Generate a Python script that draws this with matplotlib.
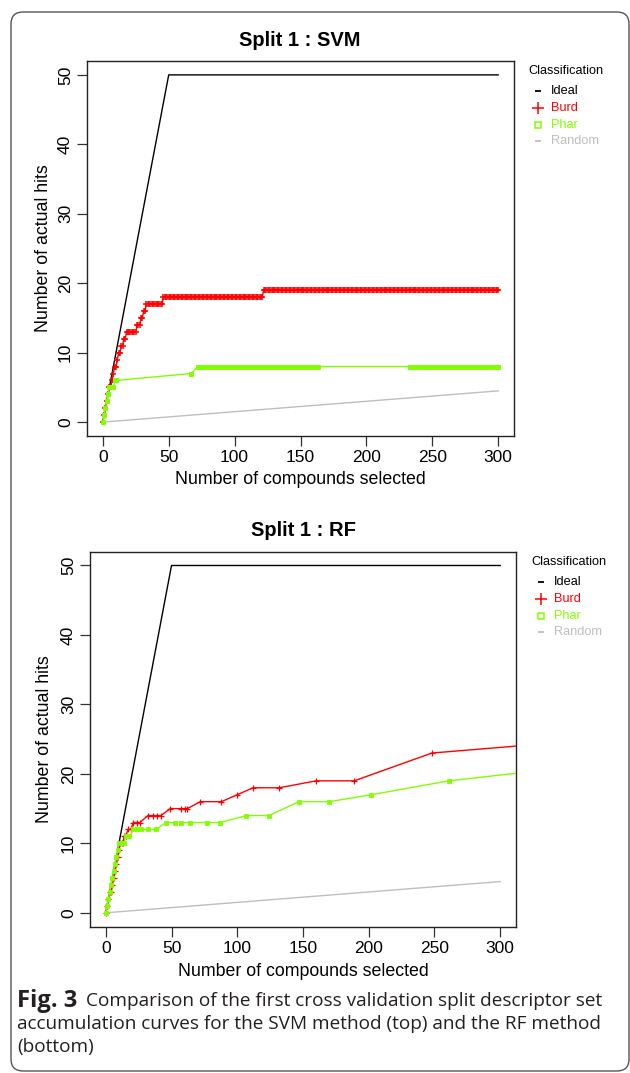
import numpy as np
import matplotlib
matplotlib.use("Agg")
import matplotlib.pyplot as plt
from matplotlib.patches import FancyBboxPatch
from matplotlib.lines import Line2D

# ---------------- data ----------------
x_ticks = [0, 50, 100, 150, 200, 250, 300]
y_ticks = [0, 10, 20, 30, 40, 50]

ideal_x = [0, 50, 300]
ideal_y = [0, 50, 50]
random_x = [0, 300]
random_y = [0, 4.5]

# SVM split: ranks at which actual hits were found
burd_svm_hits = [1, 2, 3, 4, 5, 7, 8, 9, 11, 12, 14, 16, 18, 26, 29, 31, 33, 46, 122]
burd_svm_ranks = list(range(0, 301))
phar_svm_hits = [1, 2, 3, 4, 5, 9, 67, 72]
phar_svm_ranks = list(range(0, 11)) + [67] + list(range(72, 164)) + list(range(233, 301))

# RF split: accumulation curve points
burd_rf_x = [0, 1, 2, 3, 4, 5, 6, 7, 8, 9, 10, 11, 12, 13, 14, 15, 17, 19, 21, 24, 26,
             32, 36, 39, 42, 49, 57, 60, 62, 72, 88, 100, 112, 132, 160, 189, 248, 376]
burd_rf_y = [0, 1, 2, 3, 3, 4, 5, 6, 7, 8, 9, 10, 10, 10, 11, 11, 12, 12, 13, 13, 13,
             14, 14, 14, 14, 15, 15, 15, 15, 16, 16, 17, 18, 18, 19, 19, 23, 25]
phar_rf_x = [0, 1, 2, 3, 4, 5, 6, 7, 8, 9, 10, 12, 14, 15, 18, 21, 24, 27, 32, 38,
             46, 53, 57, 64, 77, 87, 107, 124, 147, 170, 202, 261, 355]
phar_rf_y = [0, 1, 2, 3, 4, 5, 6, 7, 8, 9, 10, 10, 10, 11, 11, 12, 12, 12, 12, 12,
             13, 13, 13, 13, 13, 13, 14, 14, 16, 16, 17, 19, 21]

legend_labels = ["Ideal", "Burd", "Phar", "Random"]
caption_bold = "Fig. 3"
caption_lines = ["Comparison of the first cross validation split descriptor set",
                 "accumulation curves for the SVM method (top) and the RF method",
                 "(bottom)"]


def cumulative(hits, ranks):
    return np.searchsorted(np.array(hits), np.array(ranks), side="right")


# ---------------- style ----------------
W, H = 630, 1073
RED = "#FF0000"
GREEN = "#7FFF00"
GREY = "#BEBEBE"
plt.rcParams["font.family"] = ["Liberation Sans", "DejaVu Sans"]

fig = plt.figure(figsize=(W / 100, H / 100), dpi=100)

# background border (pixel coordinates)
bg = fig.add_axes([0, 0, 1, 1], zorder=-5)
bg.set_xlim(0, W)
bg.set_ylim(H, 0)
bg.axis("off")
bg.add_patch(FancyBboxPatch((11, 12), 618, 1059,
                            boxstyle="round,pad=0,rounding_size=12",
                            fill=False, ec="#555555", lw=1.0))


def px(x, y):
    return x / W, 1 - y / H


def make_axes(left, top, right, bottom):
    return fig.add_axes([left / W, 1 - bottom / H, (right - left) / W, (bottom - top) / H])


def style_axes(ax):
    ax.set_xlim(-12, 312)
    ax.set_ylim(-2, 52)
    ax.set_xticks(x_ticks)
    ax.set_yticks(y_ticks)
    ax.tick_params(direction="out", length=7, width=0.9, labelsize=12.5, pad=3,
                   color="#333333")
    ax.tick_params(axis="y", labelrotation=90, pad=3)
    for lab in ax.get_yticklabels():
        lab.set_va("center")
    for s in ax.spines.values():
        s.set_linewidth(1.0)
        s.set_color("#222222")


def draw_legend(x0, y0):
    fig.text(*px(x0, y0), "Classification", fontsize=9.2, ha="left", va="center")
    cols = ["black", RED, GREEN, GREY]
    marks = ["_", "+", "s", "_"]
    for i, (lab, c, m) in enumerate(zip(legend_labels, cols, marks)):
        yy = y0 + 20 + i * 16.8
        kw = dict(marker=m, color=c, linestyle="none", transform=fig.transFigure)
        if m == "s":
            kw.update(markersize=5, markerfacecolor="none", markeredgewidth=1.1)
        elif m == "+":
            kw.update(markersize=8, markeredgewidth=1.1)
        else:
            kw.update(markersize=5, markeredgewidth=1.3)
        fig.add_artist(Line2D([px(x0 + 10, yy)[0]], [px(x0 + 10, yy)[1]], **kw))
        fig.text(*px(x0 + 23, yy), lab, fontsize=9.2, color=c, ha="left", va="center")


# ---------------- top: SVM ----------------
ax1 = make_axes(87, 61, 514, 436)
ax1.plot(ideal_x, ideal_y, color="black", lw=1.0, zorder=2)
ax1.plot(burd_svm_ranks, cumulative(burd_svm_hits, burd_svm_ranks), color=RED, lw=1.0,
         marker="+", markersize=4.8, markeredgewidth=1.1, zorder=3)
ax1.plot(phar_svm_ranks, cumulative(phar_svm_hits, phar_svm_ranks), color=GREEN, lw=1.0,
         marker="s", markersize=3.3, markeredgewidth=0.7, zorder=4)
ax1.plot(random_x, random_y, color=GREY, lw=1.0, zorder=2)
style_axes(ax1)
fig.text(*px(300, 40), "Split 1 : SVM", fontsize=14.5, fontweight="bold", ha="center", va="center")
fig.text(*px(300, 480), "Number of compounds selected", fontsize=12.8, ha="center", va="center")
fig.text(*px(44, 248), "Number of actual hits", fontsize=12.8, ha="center", va="center", rotation=90)
draw_legend(528, 71)

# ---------------- bottom: RF ----------------
ax2 = make_axes(90, 551.6, 516, 926.7)
ax2.plot(ideal_x, ideal_y, color="black", lw=1.0, zorder=2)
ax2.plot(burd_rf_x, burd_rf_y, color=RED, lw=1.0,
         marker="+", markersize=4.5, markeredgewidth=0.9, zorder=3)
ax2.plot(phar_rf_x, phar_rf_y, color=GREEN, lw=1.0,
         marker="s", markersize=2.8, markeredgewidth=0.6, zorder=4)
ax2.plot(random_x, random_y, color=GREY, lw=1.0, zorder=2)
style_axes(ax2)
fig.text(*px(303, 531), "Split 1 : RF", fontsize=14.5, fontweight="bold", ha="center", va="center")
fig.text(*px(303, 971), "Number of compounds selected", fontsize=12.8, ha="center", va="center")
fig.text(*px(45, 739), "Number of actual hits", fontsize=12.8, ha="center", va="center", rotation=90)
draw_legend(531, 562)

# ---------------- caption ----------------
cap_font = ["Open Sans", "DejaVu Sans"]
renderer = fig.canvas.get_renderer()


def fit_size(text, target_w, bold=False):
    t = fig.text(0, 0, text, fontsize=13, family=cap_font,
                 fontweight="bold" if bold else "normal")
    w = t.get_window_extent(renderer).width
    t.remove()
    return 13 * target_w / w


size1 = fit_size(caption_lines[0], 512)
size2 = fit_size(caption_lines[1], 582)
bold_size = fit_size(caption_bold, 60, bold=True)
cap_color = "#231F20"
fig.text(*px(17, 1001), caption_bold, fontsize=bold_size, fontweight="bold",
         family=cap_font, ha="left", va="center", color=cap_color)
fig.text(*px(86, 1001), caption_lines[0], fontsize=size1, family=cap_font,
         ha="left", va="center", color=cap_color)
fig.text(*px(17, 1024), caption_lines[1], fontsize=size2, family=cap_font,
         ha="left", va="center", color=cap_color)
fig.text(*px(17, 1047), caption_lines[2], fontsize=size2, family=cap_font,
         ha="left", va="center", color=cap_color)

fig.savefig("out.png", dpi=100)
